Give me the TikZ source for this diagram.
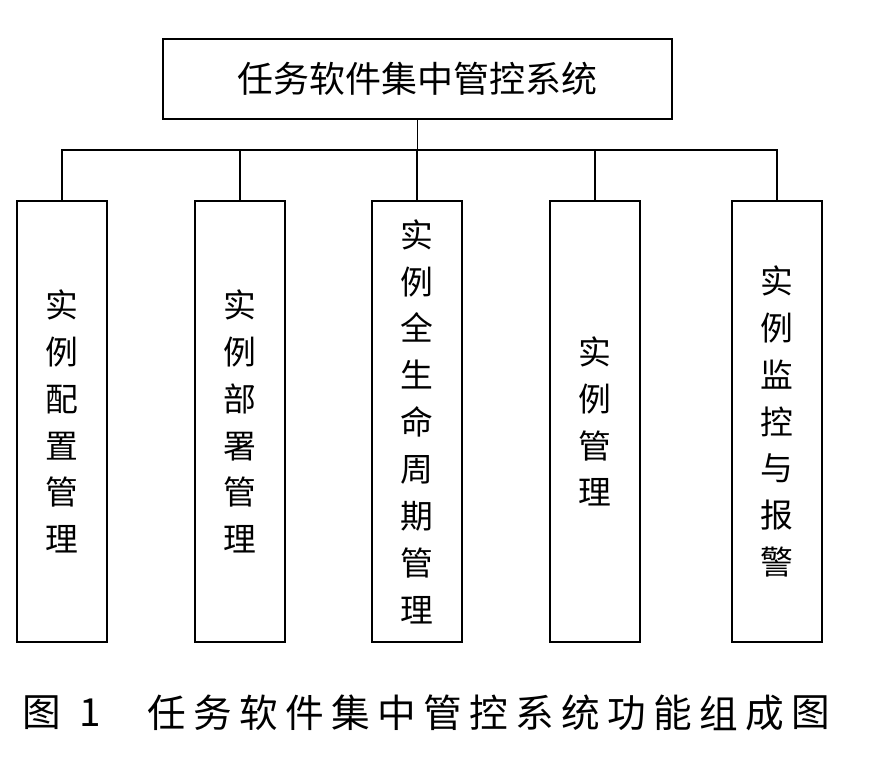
\documentclass[tikz,border=0pt]{standalone}
\usepackage{fontspec}
\setmainfont{Noto Sans CJK SC}
\usetikzlibrary{positioning}

\begin{document}
\begin{tikzpicture}[x=0.03cm, y=-0.03cm, line width=1.6pt,
    main/.style = {draw, rectangle, inner sep=0pt, minimum width=15.27cm, minimum height=2.4cm, font=\fontsize{30.7}{36}\selectfont},
    part/.style = {draw, rectangle, inner sep=0pt, minimum width=2.7cm, minimum height=13.23cm, align=center, font=\fontsize{28}{40}\selectfont},
    captext/.style = {inner sep=0pt, font=\fontsize{33}{40}\selectfont}]
            \useasboundingbox (0,0) rectangle (876,774);
            \node[main] (sys) at (417.5,79) {任务软件集中管控系统};
            \node[part] (cfg) at (62,421.5) {实\\例\\配\\置\\管\\理};
            \node[part] (dep) at (240,421.5) {实\\例\\部\\署\\管\\理};
            \node[part] (life) at (417,421.5) {实\\例\\全\\生\\命\\周\\期\\管\\理};
            \node[part] (inst) at (595,421.5) {实\\例\\管\\理};
            \node[part] (mon) at (777,421.5) {实\\例\\监\\控\\与\\报\\警};
            \coordinate (bus) at (417.5,150);
            \draw (sys.south) -- (bus);
            \draw (cfg.north) |- (bus);
            \draw (dep.north) |- (bus);
            \draw (life.north) |- (bus);
            \draw (inst.north) |- (bus);
            \draw (mon.north) |- (bus);
            % caption
            \node[captext] (capfig) at (42,713) {图};
            \node[captext] (capnum) at (90,713) {1};
            \foreach \ch [count=\i] in {任,务,软,件,集,中,管,控,系,统,功,能,组,成,图}
                \node[captext] (cap\i) at ({167+46*(\i-1)},713) {\ch};
        \end{tikzpicture}
\end{document}
